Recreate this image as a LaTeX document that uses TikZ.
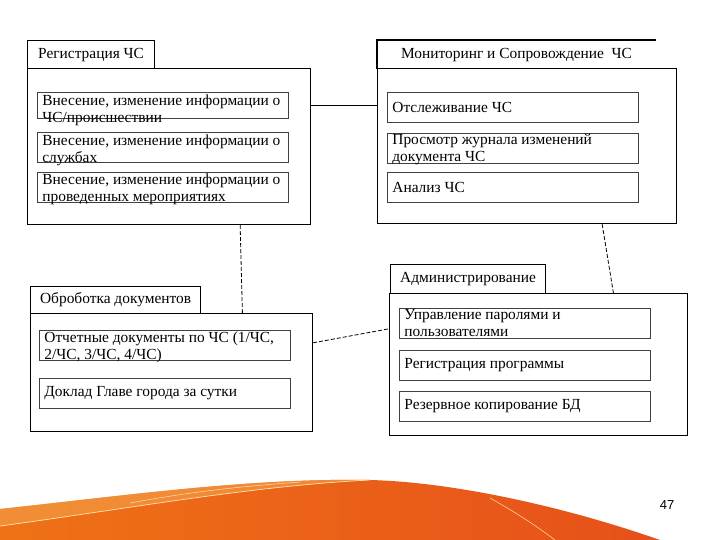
\documentclass[tikz,border=0pt]{standalone}
\usepackage{fontspec}
\setmainfont{Liberation Serif}
\newfontfamily\numfont{Liberation Sans}
\usetikzlibrary{calc}
\definecolor{swoosha}{HTML}{F39A42}
\definecolor{swooshb}{HTML}{EF7216}
\definecolor{swooshc}{HTML}{E6501A}
\definecolor{swooshl}{HTML}{FFE2B0}

\begin{document}
\begin{tikzpicture}[x=1pt,y=-1pt,
  every node/.style={font=\fontsize{15.4}{17}\selectfont},
  tab/.style={draw, line width=1.2pt, anchor=north west, inner sep=0pt, minimum height=28pt},
  body/.style={draw, line width=1.2pt, anchor=north west, inner sep=0pt},
  item/.style={draw=black!75, line width=0.8pt, anchor=north west, text width=241pt,
    inner xsep=5pt, inner ysep=0pt, minimum height=30pt, align=flush left},
  item2/.style={item, text height=12pt, text depth=18pt},
  dep/.style={line width=0.8pt, dash pattern=on 4pt off 2pt}]
\useasboundingbox (0,0) rectangle (720,540);
\fill[white] (0,0) rectangle (720,540);

% the swoosh at the bottom
\shade[left color=swooshb, middle color=swooshb, right color=swooshc]
  (0,540) -- (0,509) .. controls (130,495) and (250,478) .. (370,480)
  .. controls (450,482) and (560,505) .. (660,540) -- cycle;
\fill[swoosha, opacity=.7] (0,509) .. controls (130,495) and (250,478) .. (370,480)
  .. controls (250,486) and (120,510) .. (0,526) -- cycle;
\draw[swooshl, line width=0.7pt] (0,526) .. controls (120,510) and (250,486) .. (370,480);
\draw[swooshl, line width=0.5pt] (130,503) .. controls (180,494) and (220,488) .. (300,482);
\draw[swooshl, line width=0.5pt] (490,498) .. controls (515,512) and (535,525) .. (555,540);
\node[font=\numfont\fontsize{13}{15}\selectfont] (pagenum) at (667,505) {47};

% packages
\node[tab, minimum width=127pt] (tab1) at (27,40) {Регистрация ЧС};
\node[body, minimum width=283pt, minimum height=156pt] (body1) at (27,68) {};
\node[tab, draw=none, minimum width=278pt] (tab2) at (377,40) {Мониторинг и Сопровождение\ \ ЧС};
\draw[line width=1.2pt] (tab2.south west) |- (tab2.north east);
\node[body, minimum width=299pt, minimum height=155pt] (body2) at (377,68) {};
\node[tab, minimum width=170pt, minimum height=27pt] (tab3) at (30,286) {Оброботка документов};
\node[body, minimum width=282pt, minimum height=118pt] (body3) at (30,313) {};
\node[tab, minimum width=155pt, minimum height=29pt] (tab4) at (390,264) {Администрирование};
\node[body, minimum width=298pt, minimum height=142pt] (body4) at (389,293) {};

% edit here for the items
\node[item2, text height=13pt, text depth=13pt, minimum height=26pt] (reg1) at (37,92)
  {Внесение, изменение информации о\\ЧС/происшествии};
\node[item2, text height=13pt, text depth=17pt] (reg2) at (37,132)
  {Внесение, изменение информации о\\службах};
\node[item2] (reg3) at (37,172) {Внесение, изменение информации о\\проведенных мероприятиях};

\foreach \n/\y/\t in {mon1/92/{Отслеживание ЧС}, mon3/172/{Анализ ЧС}}
  \node[item] (\n) at (387,\y) {\t};
\node[item2, text height=11pt, text depth=19pt] (mon2) at (387,133)
  {Просмотр журнала изменений\\документа ЧС};

\node[item2] (doc1) at (39,330) {Отчетные документы по ЧС (1/ЧС,\\2/ЧС, 3/ЧС, 4/ЧС)};
\node[item] (doc2) at (39,378) {Доклад Главе города за сутки};

\node[item2, text height=11pt, text depth=19pt] (adm1) at (399,308)
  {Управление паролями и\\пользователями};
\foreach \n/\y/\t in {adm2/350/{Регистрация программы}, adm3/391/{Резервное копирование БД}}
  \node[item] (\n) at (399,\y) {\t};

% connectors
\draw[line width=0.8pt] (reg1 -| body1.east) -- (reg1 -| body2.west);
\draw[dep] ($(body1.south west)!.75!(body1.south east)$) -- ($(body3.north west)!.75!(body3.north east)$);
\draw[dep] ($(body2.south west)!.75!(body2.south east)$) -- ($(body4.north west)!.75!(body4.north east)$);
\draw[dep] ($(body3.north east)!.25!(body3.south east)$) -- ($(body4.north west)!.25!(body4.south west)$);
\end{tikzpicture}
\end{document}
